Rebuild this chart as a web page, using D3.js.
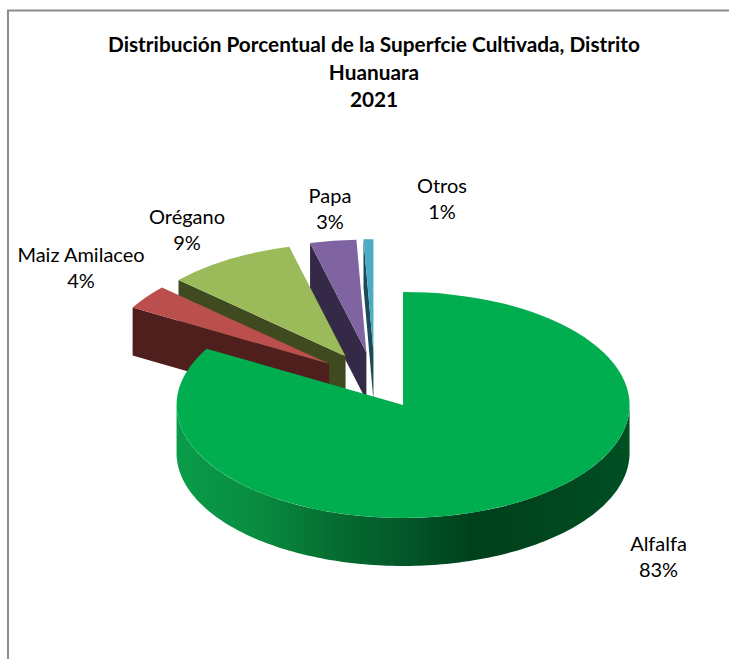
<!DOCTYPE html>
<html>
<head>
<meta charset="utf-8">
<script src="https://cdnjs.cloudflare.com/ajax/libs/d3/7.8.5/d3.min.js"></script>
<style>
    html, body { margin: 0; padding: 0; background: #fff; }
    svg { display: block; }
    text { font-family: Lato, "Open Sans", sans-serif; fill: #000; }
</style>
</head>
<body>
<div id="chart"></div>
<script>
var categories = ["Alfalfa", "Maiz Amilaceo", "Orégano", "Papa", "Otros"];
var values = [83.3, 3.5, 9.2, 3.3, 0.7];
var percentLabels = ["83%", "4%", "9%", "3%", "1%"];
var titleLines = ["Distribución Porcentual de la Superfcie Cultivada, Distrito", "Huanuara", "2021"];

var topColors = ["#00ae50", "#bb4f4d", "#9bba59", "#8064a2", "#4bacc6"];
var wallColors = ["#00ae50", "#4f1f1e", "#3f4a21", "#342a48", "#1d4a57"];

var width = 729, height = 659;
var rx = 226.5, ry = 113, depth = 48;
var explode = 0.25;
// centre of the pie before the slices get pulled apart
var cx = 374.7, cy = 380.5;

// where each data label sits (centre x, baseline of first line)
var labelPos = [[658.5, 551], [81, 262], [187, 224], [330, 203], [442, 193]];

var svg = d3.select("#chart")
    .append("svg")
    .attr("width", width)
    .attr("height", height);

// frame, only top and left are in the picture
svg.append("path")
    .attr("d", "M8," + height + "V10.5H" + width)
    .attr("fill", "none")
    .attr("stroke", "#8c8c8c")
    .attr("stroke-width", 2);

var title = svg.append("g").attr("text-anchor", "middle");
titleLines.forEach(function (t, i) {
    title.append("text")
        .attr("x", 374)
        .attr("y", 52 + i * 27.5)
        .attr("font-size", 20.8)
        .attr("font-weight", 700)
        .text(t);
});

var pie = d3.pie().sort(null).value(function (d) { return d; });
var slices = pie(values);

var arc = d3.arc().innerRadius(0).outerRadius(rx);

function px(a, c) { return c + rx * Math.sin(a); }
function py(a, c) { return c - ry * Math.cos(a); }

slices.forEach(function (s) {
    var mid = (s.startAngle + s.endAngle) / 2;
    s.ox = cx + explode * rx * Math.sin(mid);
    s.oy = cy - explode * ry * Math.cos(mid);
});

var defs = svg.append("defs");
var grad = defs.append("linearGradient")
    .attr("id", "rim")
    .attr("gradientUnits", "objectBoundingBox")
    .attr("x1", 0).attr("x2", 1).attr("y1", 0).attr("y2", 0);
[[0, "#0a9c49"], [0.18, "#088c40"], [0.33, "#067032"], [0.48, "#035a2a"], [0.66, "#00401c"], [0.85, "#00471f"], [1, "#005024"]]
    .forEach(function (st) {
        grad.append("stop").attr("offset", st[0]).attr("stop-color", st[1]);
    });

// back slices first, Otros at the very back, green last
d3.range(slices.length - 1, -1, -1).forEach(function (i) {
    var s = slices[i];
    if (i > 0) {
        // the cut face at the start of the slice is the only wall seen from here
        var x0 = px(s.startAngle, s.ox), y0 = py(s.startAngle, s.oy);
        svg.append("path")
            .attr("d", d3.line()([[s.ox, s.oy], [x0, y0], [x0, y0 + depth], [s.ox, s.oy + depth]]) + "Z")
            .attr("fill", wallColors[i]);
    } else {
        // outer wall of the big slice, front half only
        var front = d3.range(Math.PI / 2, 3 * Math.PI / 2 + 0.001, 0.02);
        var upper = front.map(function (a) { return [px(a, s.ox), py(a, s.oy)]; });
        var lower = front.slice().reverse().map(function (a) { return [px(a, s.ox), py(a, s.oy) + depth]; });
        svg.append("path")
            .attr("d", d3.line()(upper.concat(lower)) + "Z")
            .attr("fill", "url(#rim)");
    }
    svg.append("path")
        .attr("d", arc(s))
        .attr("transform", "translate(" + s.ox + "," + s.oy + ") scale(1," + (ry / rx) + ")")
        .attr("fill", topColors[i]);
});

var labels = svg.append("g").attr("text-anchor", "middle").attr("font-size", 20);
categories.forEach(function (c, i) {
    labels.append("text").attr("x", labelPos[i][0]).attr("y", labelPos[i][1]).text(c);
    labels.append("text").attr("x", labelPos[i][0]).attr("y", labelPos[i][1] + 26).text(percentLabels[i]);
});
</script>
</body>
</html>
